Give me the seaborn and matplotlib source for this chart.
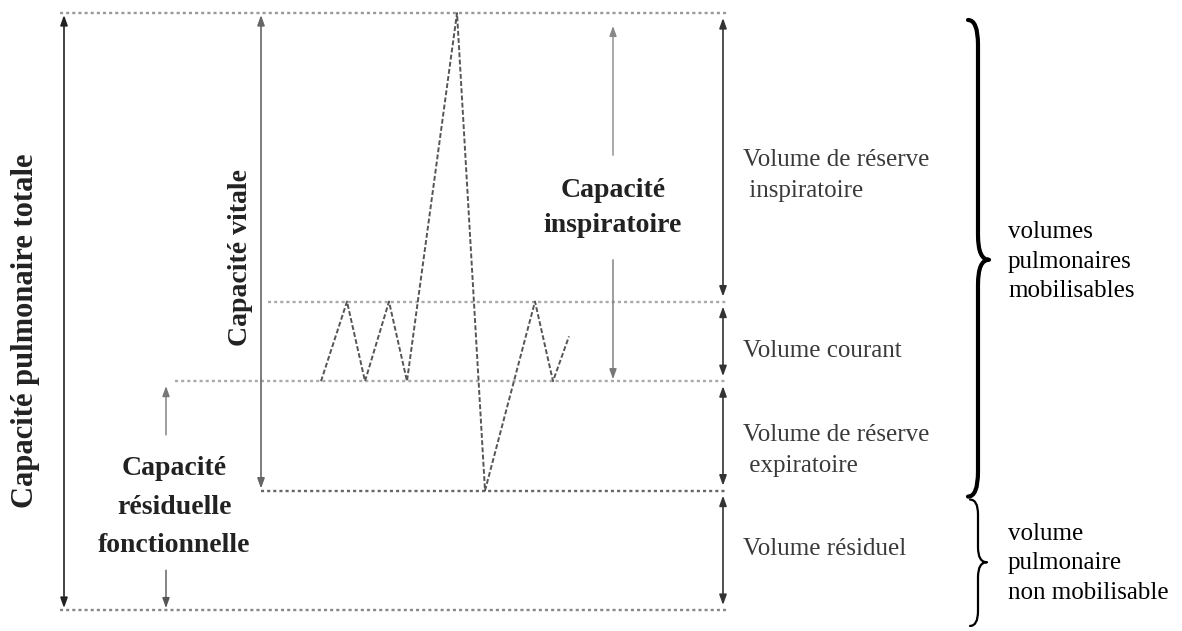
import matplotlib
matplotlib.use("Agg")
import matplotlib.pyplot as plt
from matplotlib.path import Path
from matplotlib.patches import PathPatch
import pandas as pd
import seaborn as sns

# spirogram trace: time (s) and lung volume (L)
trace_time = [0, 1.3, 2.2, 3.4, 4.3, 6.8, 8.2, 10.7, 11.6, 12.4]
trace_volume = [2.3, 3.1, 2.3, 3.1, 2.3, 6.0, 1.2, 3.1, 2.3, 2.75]

# reference volume levels (L), bottom to top
level_values = [0.0, 1.2, 2.3, 3.1, 6.0]

# labels of the four volumes between the levels, bottom to top
volume_labels = ["Volume résiduel",
                 "Volume de réserve\n expiratoire",
                 "Volume courant",
                 "Volume de réserve\n inspiratoire"]

group_labels = ["volume\npulmonaire\nnon mobilisable",
                "volumes\npulmonaires\nmobilisables"]

sns.set_theme(style="white")
plt.rcParams['font.family'] = ['Liberation Serif', 'DejaVu Serif']

fig = plt.figure(figsize=(11.82, 6.31), dpi=100)
ax = fig.add_axes([0, 0, 1, 1])
ax.set_xlim(-16.05, 43.05)
ax.set_ylim(-0.211, 6.131)
ax.axis('off')

# dotted level lines (start x is layout, end at the right arrows)
line_start = [-13.05, -3.0, -7.3, -2.65, -13.05]
line_color = ['#888888', '#666666', '#aaaaaa', '#aaaaaa', '#999999']
for y, x0, c in zip(level_values, line_start, line_color):
    ax.plot([x0, 20.3], [y, y], color=c, lw=1.7, ls=(0, (1.3, 1.3)))

# the trace
df = pd.DataFrame({'temps': trace_time, 'volume': trace_volume})
sns.lineplot(data=df, x='temps', y='volume', ax=ax, color='#555555',
             lw=1.4, linestyle=(0, (2.5, 1.2)), sort=False)


def arrow(x, y0, y1, style='<|-|>', color='#222222', lw=1.2):
    ax.annotate('', xy=(x, y1), xytext=(x, y0),
                arrowprops=dict(arrowstyle=style + ',head_length=0.5,head_width=0.18',
                                color=color, lw=lw, shrinkA=0, shrinkB=0))


# capacité pulmonaire totale
arrow(-12.85, 0.02, 5.98, color='#222222')
ax.text(-14.8, 2.81, "Capacité pulmonaire totale", rotation=90, ha='center', va='center',
        fontsize=22, fontweight='bold', color='#222222')

# capacité vitale
arrow(-3.0, 1.22, 5.98, color='#666666')
ax.text(-4.05, 3.54, "Capacité vitale", rotation=90, ha='center', va='center',
        fontsize=20, fontweight='bold', color='#222222')

# capacité inspiratoire
arrow(14.6, 4.57, 5.87, style='-|>', color='#888888', lw=1.0)
arrow(14.6, 3.52, 2.32, style='-|>', color='#777777', lw=1.0)
ax.text(14.6, 4.04, "Capacité\ninspiratoire", ha='center', va='center',
        fontsize=20, fontweight='bold', color='#222222', linespacing=1.5)

# capacité résiduelle fonctionnelle
arrow(-7.75, 1.76, 2.25, style='-|>', color='#777777', lw=1.0)
arrow(-7.75, 0.40, 0.02, style='-|>', color='#555555', lw=1.0)
ax.text(-7.35, 1.035, "Capacité\nrésiduelle\nfonctionnelle", ha='center', va='center',
        fontsize=20, fontweight='bold', color='#222222', linespacing=1.7)

# right-hand arrows and labels
label_pos = [0.61, 1.60, 2.60, 4.37]
for i, lab in enumerate(volume_labels):
    arrow(20.1, level_values[i] + 0.05, level_values[i + 1] - 0.05, color='#333333', lw=1.2)
    ax.text(21.1, label_pos[i], lab, ha='left', va='center', fontsize=18,
            color='#3a3a3a', linespacing=1.55)


def brace(x_left, x_stem, x_tip, y_top, y_mid, y_bot, r, lw):
    verts = [(x_left, y_top), (x_stem, y_top), (x_stem, y_top - r),
             (x_stem, y_mid + r), (x_stem, y_mid), (x_tip, y_mid),
             (x_stem, y_mid), (x_stem, y_mid - r),
             (x_stem, y_bot + r), (x_stem, y_bot), (x_left, y_bot)]
    codes = [Path.MOVETO, Path.CURVE3, Path.CURVE3, Path.LINETO,
             Path.CURVE3, Path.CURVE3, Path.CURVE3, Path.CURVE3,
             Path.LINETO, Path.CURVE3, Path.CURVE3]
    ax.add_patch(PathPatch(Path(verts, codes), fill=False, lw=lw, color='black',
                           capstyle='round', joinstyle='round'))


brace(32.35, 32.85, 33.4, 5.93, 3.52, 1.14, 0.25, 3.0)
brace(32.45, 32.85, 33.3, 1.11, 0.48, -0.16, 0.15, 1.6)

ax.text(34.35, 3.50, group_labels[1], ha='left', va='center', fontsize=18,
        color='black', linespacing=1.45)
ax.text(34.35, 0.47, group_labels[0], ha='left', va='center', fontsize=18,
        color='black', linespacing=1.45)

fig.savefig("out.png", dpi=100)
